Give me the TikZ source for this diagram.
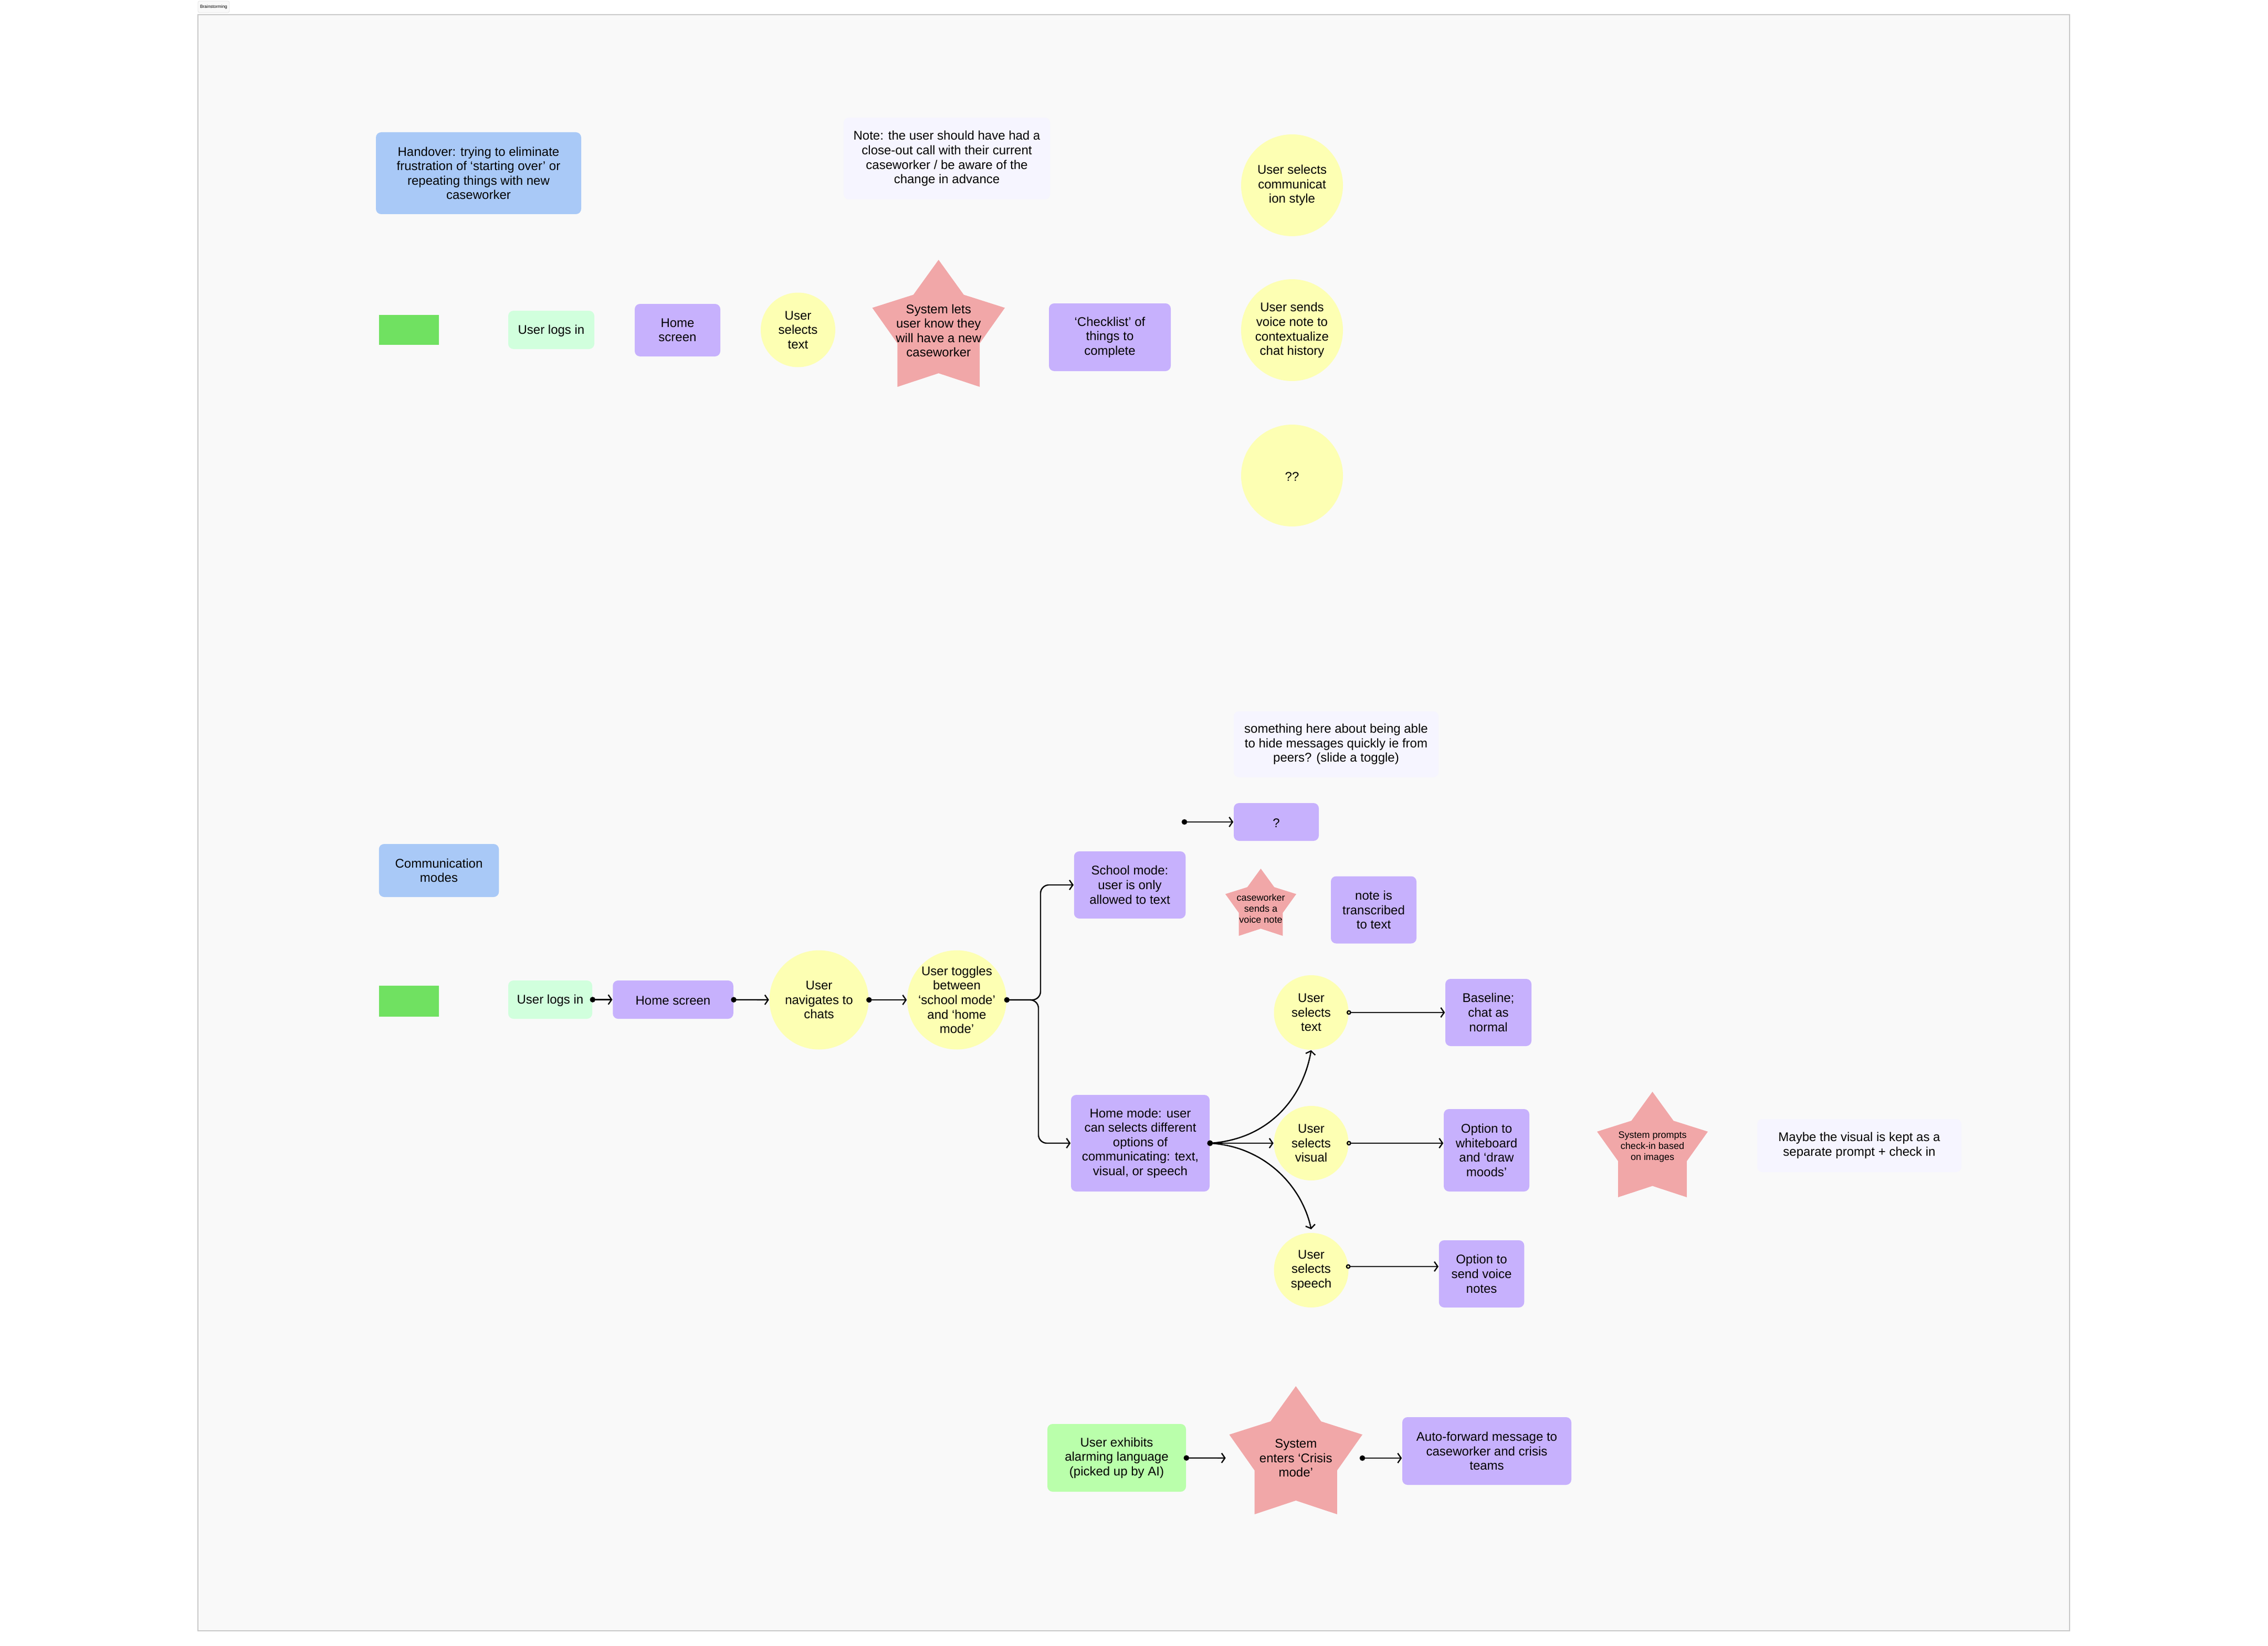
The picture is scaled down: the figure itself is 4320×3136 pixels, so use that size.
\documentclass[tikz,border=0pt]{standalone}
\usepackage{fontspec}
\setmainfont{Liberation Sans}
\usetikzlibrary{arrows.meta}

\newcommand{\varu}{0.25pt}
\definecolor{myframe}{RGB}{249,249,249}
\definecolor{myedge}{RGB}{200,200,200}
\definecolor{myblue}{RGB}{169,201,247}
\definecolor{mymint}{RGB}{209,255,221}
\definecolor{mylime}{RGB}{186,255,171}
\definecolor{mygreen}{RGB}{112,225,97}
\definecolor{mypurple}{RGB}{199,177,253}
\definecolor{myyellow}{RGB}{253,255,179}
\definecolor{mycoral}{RGB}{241,167,168}
\definecolor{mynote}{RGB}{246,245,255}

\tikzset{
	basetext/.style={align=center, inner sep=0pt, text=black, font=\fontsize{6pt}{6.9pt}\selectfont,
		execute at begin node={\rule{0pt}{0.88em}}},
	smalltext/.style={font=\fontsize{4.5pt}{5.15pt}\selectfont},
	card/.style n args={3}{basetext, rectangle, rounded corners=2.5pt, fill=#1, minimum width=#2*\varu, minimum height=#3*\varu},
	bubble/.style={basetext, circle, fill=myyellow, minimum size=#1*\varu},
	flow/.style={{Circle[length=2.6pt]}-{Straight Barb[length=1.6pt,width=4.6pt]}, line width=0.6pt, black, shorten <=-1.3pt},
	openflow/.style={{Circle[open,fill=myyellow,length=2.2pt]}-{Straight Barb[length=1.6pt,width=4.6pt]}, line width=0.6pt, black, shorten <=-1.1pt},
	plainflow/.style={-{Straight Barb[length=1.6pt,width=4.6pt]}, line width=0.6pt, black},
}

% name, left, top, width, height, text centre y, text style, text
\newcommand{\starbox}[8]{
	\fill [mycoral, shift={(#2,#3)}, xscale=#4, yscale=#5] (0.5,0) -- (0.69,0.275) -- (1,0.378) -- (0.81,0.658) -- (0.81,1) -- (0.5,0.893) -- (0.19,1) -- (0.19,0.658) -- (0,0.378) -- (0.31,0.275) -- cycle;
	\node [basetext, #7, minimum width=#4*\varu] (#1) at ({#2+#4/2},#6) {#8};
}

\begin{document}
\begin{tikzpicture}[x=\varu, y=-\varu]

	\useasboundingbox (0,0) rectangle (4320,3136);
	\fill [white] (0,0) rectangle (4320,3136);

	% frame
	\draw [draw=myedge, fill=myframe, line width=0.3pt] (377,28) rectangle (3942,3107);
	\node [basetext, rectangle, rounded corners=0.8pt, draw=myedge!50, line width=0.2pt, fill=myframe, minimum width=60*\varu, minimum height=22*\varu, font=\fontsize{2.1pt}{3pt}\selectfont] (tab) at (407,13) {Brainstorming};

	% handover row
	\node [card={myblue}{391}{156}] (handover) at (911.5,330) {Handover: trying to eliminate\\frustration of ‘starting over’ or\\repeating things with new\\caseworker};
	\node [rectangle, fill=mygreen, minimum width=114*\varu, minimum height=57*\varu, inner sep=0pt] (startone) at (779,628.5) {};
	\node [card={mymint}{164}{73}] (loginone) at (1050,628.5) {User logs in};
	\node [card={mypurple}{163}{100}] (homeone) at (1290.5,629) {Home\\screen};
	\node [bubble=142] (selectone) at (1520,628.5) {User\\selects\\text};
	\starbox{lets}{1661.5}{495}{252.5}{242}{630}{}{System lets\\user know they\\will have a new\\caseworker}
	\node [card={mypurple}{232}{129}] (checklist) at (2114,642.5) {‘Checklist’ of\\things to\\complete};
	\node [card={mynote}{393.5}{156}] (noteone) at (1803.5,302) {Note: the user should have had a\\close-out call with their current\\caseworker / be aware of the\\change in advance};
	\node [bubble=194] (style) at (2461,353) {User selects\\communicat\\ion style};
	\node [bubble=194] (voicenote) at (2461,629) {User sends\\voice note to\\contextualize\\chat history};
	\node [bubble=194] (unknown) at (2461,906) {??};

	% communication row
	\node [card={myblue}{228.5}{101}] (modes) at (836,1658.5) {Communication\\modes};
	\node [rectangle, fill=mygreen, minimum width=114*\varu, minimum height=59*\varu, inner sep=0pt] (starttwo) at (779,1907.5) {};
	\node [card={mymint}{160}{73}] (logintwo) at (1048,1904.5) {User logs in};
	\node [card={mypurple}{229.5}{73}] (hometwo) at (1282,1904.5) {Home screen};
	\node [bubble=189] (chats) at (1560,1905) {User\\navigates to\\chats};
	\node [bubble=189, inner sep=-4pt] (toggle) at (1822.5,1905) {User toggles\\between\\‘school mode’\\and ‘home\\mode’};

	% school branch
	\node [card={mynote}{390}{126}] (notetwo) at (2545,1418) {something here about being able\\to hide messages quickly ie from\\peers? (slide a toggle)};
	\node [card={mypurple}{162}{72}] (hide) at (2431,1566) {?};
	\node [card={mypurple}{212.5}{128}] (school) at (2152,1686) {School mode:\\user is only\\allowed to text};
	\starbox{casesends}{2334}{1655}{135}{128}{1731}{smalltext}{caseworker\\sends a\\voice note}
	\node [card={mypurple}{163}{128}] (transcribed) at (2616.5,1733.5) {note is\\transcribed\\to text};

	% home branch
	\node [card={mypurple}{264}{184}] (homemode) at (2172,2178) {Home mode: user\\can selects different\\options of\\communicating: text,\\visual, or speech};
	\node [bubble=142] (seltext) at (2497.5,1929) {User\\selects\\text};
	\node [bubble=142] (selvisual) at (2497.5,2178) {User\\selects\\visual};
	\node [bubble=142] (selspeech) at (2497.5,2420) {User\\selects\\speech};
	\node [card={mypurple}{164}{128}] (baseline) at (2835,1929) {Baseline;\\chat as\\normal};
	\node [card={mypurple}{163}{157}] (whiteboard) at (2831.5,2191.5) {Option to\\whiteboard\\and ‘draw\\moods’};
	\node [card={mypurple}{162.5}{128}] (voicenotes) at (2822,2427) {Option to\\send voice\\notes};
	\starbox{prompts}{3042}{2080}{211}{201}{2185}{smalltext}{System prompts\\check-in based\\on images}
	\node [card={mynote}{389}{101}] (notethree) at (3541.5,2182.5) {Maybe the visual is kept as a\\separate prompt + check in};

	% crisis row
	\node [card={mylime}{264}{129}] (alarm) at (2127,2777.5) {User exhibits\\alarming language\\(picked up by AI)};
	\starbox{crisis}{2341.5}{2641}{253.5}{244}{2778}{}{System\\enters ‘Crisis\\mode’}
	\node [card={mypurple}{322}{129}] (forward) at (2832,2764.5) {Auto-forward message to\\caseworker and crisis\\teams};

	% free ends
	\coordinate (hidestart) at (2256,1566);
	\coordinate (forkup) at (1982,1905);
	\coordinate (forkdown) at (1978,1905);
	\coordinate (speechin) at (2497.5,2342);
	\coordinate (speechout) at (2568,2413);

	% straight arrows
	\draw [flow] (logintwo) -- (hometwo);
	\draw [flow] (hometwo) -- (chats);
	\draw [flow] (chats) -- (toggle);
	\draw [flow] (hidestart) -- (hide);
	\draw [flow, shorten >=1.5pt] (alarm) -- (crisis);
	\draw [flow, shorten <=-1.5pt] (crisis.east) -- (crisis.east -| forward.west);

	% fork
	\draw [flow, rounded corners=4pt] (toggle.east) -- (forkup) |- (school.west);
	\draw [plainflow, rounded corners=4pt] (toggle.east) -- (forkdown) |- (homemode.west);

	% home mode options
	\draw [flow] (homemode.east) .. controls (2410,2170) and (2480,2100) .. (seltext.south);
	\draw [flow] (homemode.east) -- (selvisual.west);
	\draw [flow] (homemode.east) .. controls (2410,2186) and (2480,2260) .. (speechin);

	% outcomes
	\draw [openflow] (seltext.east) -- (baseline.west);
	\draw [openflow] (selvisual.east) -- (selvisual.east -| whiteboard.west);
	\draw [openflow] (speechout) -- (speechout -| voicenotes.west);

\end{tikzpicture}
\end{document}
